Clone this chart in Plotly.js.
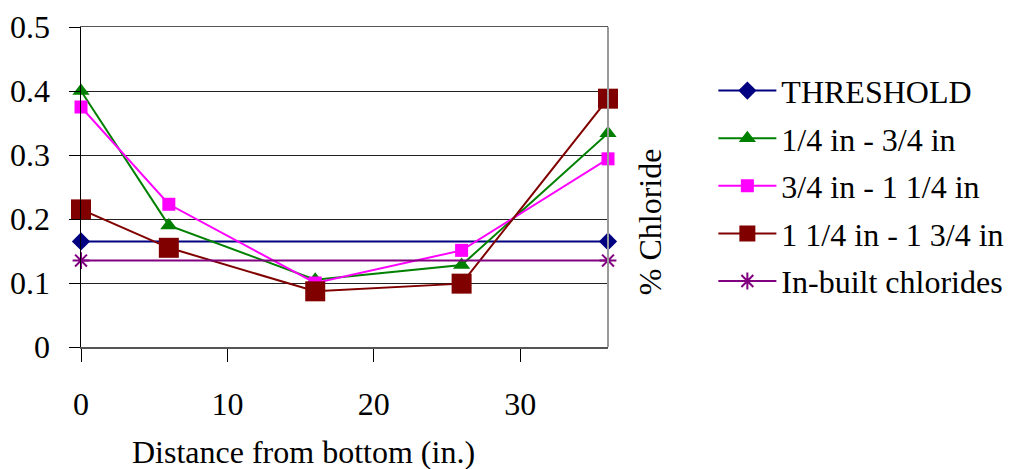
<!DOCTYPE html>
<html>
<head>
<meta charset="utf-8">
<script src="https://cdn.plot.ly/plotly-3.0.1.min.js"></script>
<style>html,body{margin:0;padding:0;background:#fff;}#chart{width:1009px;height:469px;}</style>
</head>
<body>
<div id="chart"></div>
<script>
// Data
const seriesNames = ["THRESHOLD", "1/4 in - 3/4 in", "3/4 in - 1 1/4 in", "1 1/4 in - 1 3/4 in", "In-built chlorides"];
const distance = [0, 6, 16, 26, 36];
const thresholdX = [0, 36];
const thresholdY = [0.165, 0.165];
const quarterToThreeQuarter = [0.40, 0.19, 0.105, 0.128, 0.334];
const threeQuarterToOneQuarter = [0.375, 0.223, 0.10, 0.151, 0.294];
const oneQuarterToOneThreeQuarter = [0.215, 0.155, 0.087, 0.099, 0.388];
const inbuiltX = [0, 36];
const inbuiltY = [0.135, 0.135];
const xTicks = [0, 10, 20, 30];
const yTicks = [0, 0.1, 0.2, 0.3, 0.4, 0.5];

const FONT = "Liberation Serif";
const FS = 32;

const traces = [
  {x: thresholdX, y: thresholdY, name: seriesNames[0], legendgroup: "g0", mode: "lines+markers", cliponaxis: false,
   line: {color: "#000080", width: 2}, marker: {symbol: "diamond", size: 14, color: "#000080"}},
  {x: distance, y: quarterToThreeQuarter, name: seriesNames[1], legendgroup: "g1", mode: "lines+markers", cliponaxis: false,
   line: {color: "#008000", width: 2}, marker: {symbol: "triangle-up", size: 15, color: "#008000"}},
  {x: distance, y: threeQuarterToOneQuarter, name: seriesNames[2], legendgroup: "g2", mode: "lines+markers", cliponaxis: false,
   line: {color: "#FF00FF", width: 2}, marker: {symbol: "square", size: 13, color: "#FF00FF"}},
  {x: distance, y: oneQuarterToOneThreeQuarter, name: seriesNames[3], legendgroup: "g3", mode: "lines+markers", cliponaxis: false,
   line: {color: "#800000", width: 2}, marker: {symbol: "square", size: 20, color: "#800000"}},
  {x: inbuiltX, y: inbuiltY, name: seriesNames[4], legendgroup: "g4", mode: "lines+markers", cliponaxis: false,
   line: {color: "#800080", width: 2}, marker: {symbol: "asterisk-open", size: 14, color: "#800080", line: {color: "#800080", width: 2}}}
];

const layout = {
  width: 1009, height: 469,
  margin: {l: 81, r: 401, t: 27, b: 122, pad: 0, autoexpand: false},
  paper_bgcolor: "#fff", plot_bgcolor: "#fff",
  font: {family: FONT, size: FS, color: "#000"},
  showlegend: true,
  legend: {xref: "container", yref: "container", x: 0.707, y: 0.865, xanchor: "left", yanchor: "top",
           tracegroupgap: 3, itemwidth: 58,
           font: {family: FONT, size: FS, color: "#000"}, bgcolor: "rgba(0,0,0,0)"},
  xaxis: {range: [0, 36], tickvals: xTicks, ticktext: xTicks.map(String),
          ticks: "outside", ticklen: 13, tickcolor: "#000", tickwidth: 1,
          showgrid: false, zeroline: false, showline: true, linecolor: "#555", linewidth: 1.5,
          mirror: true, ticklabelstandoff: 15, tickfont: {family: FONT, size: FS}},
  yaxis: {range: [0, 0.5], tickvals: yTicks, ticktext: yTicks.map(String),
          ticks: "outside", ticklen: 11, tickcolor: "#000", tickwidth: 1,
          showgrid: true, gridcolor: "#222", gridwidth: 1, zeroline: false,
          showline: true, linecolor: "#000", linewidth: 1.5,
          ticklabelstandoff: 12, tickfont: {family: FONT, size: FS}},
  shapes: [
    {type: "line", xref: "paper", yref: "paper", x0: 1, x1: 1, y0: 0, y1: 1, line: {color: "#999", width: 2}}
  ],
  annotations: [
    {text: "Distance from bottom (in.)", xref: "paper", yref: "paper", x: 0.423, y: -0.328,
     xanchor: "center", yanchor: "middle", showarrow: false, font: {family: FONT, size: FS}},
    {text: "% Chloride", xref: "paper", yref: "paper", x: 1.0797, y: 0.39, textangle: -90,
     xanchor: "center", yanchor: "middle", showarrow: false, font: {family: FONT, size: FS}}
  ]
};

Plotly.newPlot("chart", traces, layout, {staticPlot: true, displayModeBar: false});
</script>
</body>
</html>
